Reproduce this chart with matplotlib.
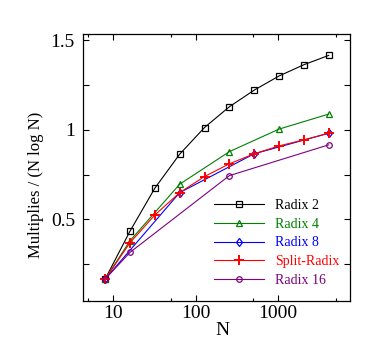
import matplotlib
matplotlib.use("Agg")
import matplotlib.pyplot as plt
from matplotlib.ticker import FixedLocator, NullFormatter

plt.rcParams["font.family"] = ["Liberation Serif", "DejaVu Serif"]

# Multiplies per N log N for each FFT algorithm
n_radix2 = [8, 16, 32, 64, 128, 256, 512, 1024, 2048, 4096]
radix2 = [0.166, 0.434, 0.674, 0.864, 1.013, 1.129, 1.222, 1.301, 1.364, 1.416]

n_radix4 = [8, 16, 64, 256, 1024, 4096]
radix4 = [0.166, 0.380, 0.696, 0.878, 1.004, 1.088]

n_radix8 = [8, 64, 512, 4096]
radix8 = [0.166, 0.649, 0.866, 0.981]

n_split = [8, 16, 32, 64, 128, 256, 512, 1024, 2048, 4096]
split = [0.166, 0.369, 0.524, 0.649, 0.739, 0.810, 0.866, 0.910, 0.944, 0.981]

n_radix16 = [8, 16, 256, 4096]
radix16 = [0.166, 0.315, 0.744, 0.916]

fig = plt.figure(figsize=(3.8, 3.5), dpi=100)
ax = fig.add_axes([0.219, 0.14, 0.703, 0.764])

lw = 0.8
ax.plot(n_radix2, radix2, color="black", lw=lw, marker="s", ms=4, mfc="none", mew=0.9, label="Radix 2")
ax.plot(n_radix4, radix4, color="#008000", lw=lw, marker="^", ms=4, mfc="none", mew=0.9, label="Radix 4")
ax.plot(n_radix8, radix8, color="#0000ff", lw=lw, marker="d", ms=4.5, mfc="none", mew=0.9, label="Radix 8")
ax.plot(n_split, split, color="#ff0000", lw=lw, marker="+", ms=7, mew=1.4, label="Split-Radix")
ax.plot(n_radix16, radix16, color="#800080", lw=lw, marker="o", ms=4, mfc="none", mew=0.9, label="Radix 16")

ax.set_xscale("log")
ax.set_xlim(4.33, 7500)
ax.set_ylim(0.043, 1.538)

ax.xaxis.set_major_locator(FixedLocator([10, 100, 1000]))
ax.set_xticklabels(["10", "100", "1000"])
ax.xaxis.set_minor_locator(FixedLocator([5, 50, 500, 5000]))
ax.xaxis.set_minor_formatter(NullFormatter())

ax.set_yticks([0.25, 0.5, 0.75, 1.0, 1.25, 1.5])
ax.set_yticklabels(["", "0.5", "", "1", "", "1.5"])

ax.tick_params(which="both", direction="in", top=True, right=True, labelsize=14, width=0.8)
ax.tick_params(which="major", length=4)
ax.tick_params(which="minor", length=2.5)
ax.tick_params(axis="y", pad=6)
ax.tick_params(axis="x", pad=3)
for s in ax.spines.values():
    s.set_linewidth(0.9)

ax.set_xlabel("N", fontsize=14)
ax.xaxis.set_label_coords(0.523, -0.08)
ax.set_ylabel("Multiplies / (N log N)", fontsize=12)
ax.yaxis.set_label_coords(-0.145, 0.434)

ax.legend(loc="upper left", bbox_to_anchor=(214 / 380, 0.432), bbox_transform=fig.transFigure,
          frameon=False, fontsize=10, handlelength=3.6, handletextpad=0.77, labelspacing=0.42,
          borderpad=0, borderaxespad=0, labelcolor="linecolor")

fig.savefig("out.png", dpi=100)
